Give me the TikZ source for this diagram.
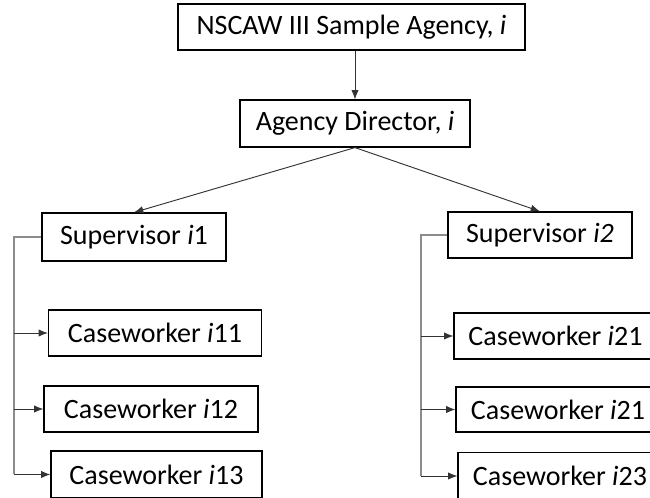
\documentclass[tikz,border=0pt]{standalone}
\usepackage{fontspec}
\setmainfont{Carlito}
\usetikzlibrary{arrows.meta, positioning, calc}

\begin{document}
\begin{tikzpicture}[x=0.75pt, y=-0.75pt,
    unitbox/.style={draw=black, line width=0.9pt, rectangle, inner sep=0pt,
      align=center, font=\fontsize{21}{25}\selectfont},
    feed/.style={draw=black!80, line width=0.7pt, -{Latex[length=7pt,width=5.5pt]}},
    trunk/.style={draw=black!45, line width=0.9pt}]
  \useasboundingbox (0,0) rectangle (650,498);
  \clip (0,0) rectangle (650,498);
  % agency and director
  \node[unitbox, minimum width=347*0.75pt, minimum height=46*0.75pt] (agency) at (351.5,27) {NSCAW III Sample Agency, \textit{i}};
  \node[unitbox, minimum width=230*0.75pt, minimum height=47*0.75pt] (director) at (355,123.5) {Agency Director, \textit{i}};
  % supervisors
  \node[unitbox, minimum width=184*0.75pt, minimum height=48*0.75pt] (sup1) at (134,237) {Supervisor \textit{i}1};
  \node[unitbox, minimum width=184*0.75pt, minimum height=46*0.75pt] (sup2) at (540,235) {Supervisor \textit{i2}};
  % caseworkers, left branch
  \node[unitbox, minimum width=213*0.75pt, minimum height=46*0.75pt] (cw11) at (155,333) {Caseworker \textit{i}11};
  \node[unitbox, minimum width=214*0.75pt, minimum height=46*0.75pt] (cw12) at (151,409) {Caseworker \textit{i}12};
  \node[unitbox, minimum width=211*0.75pt, minimum height=47*0.75pt] (cw13) at (156.5,474.5) {Caseworker \textit{i}13};
  % caseworkers, right branch (cut at the page edge)
  \node[unitbox, minimum width=203*0.75pt, minimum height=46*0.75pt] (cw21) at (555.5,336) {Caseworker \textit{i}21};
  \node[unitbox, minimum width=204*0.75pt, minimum height=45*0.75pt] (cw22) at (558,409.5) {Caseworker \textit{i}21};
  \node[unitbox, minimum width=204*0.75pt, minimum height=47*0.75pt] (cw23) at (560,476) {Caseworker \textit{i}23};

  \coordinate (rail1) at (14,0);
  \coordinate (rail2) at (421,0);

  \draw[feed] (director.north |- agency.south) -- (director.north);
  \draw[feed] (director.south) -- (sup1.north);
  \draw[feed] (director.south) -- (sup2.north);

  % elbows down the left side of each team
  \draw[trunk] (sup1.west) -| (rail1 |- cw13.west);
  \draw[trunk] (sup2.west) -| (rail2 |- cw23.west);
  \foreach \cw in {cw11,cw12,cw13} {
    \draw[feed] (rail1 |- \cw.west) -- (\cw.west);
  }
  \foreach \cw in {cw21,cw22,cw23} {
    \draw[feed] (rail2 |- \cw.west) -- (\cw.west);
  }
\end{tikzpicture}
\end{document}
